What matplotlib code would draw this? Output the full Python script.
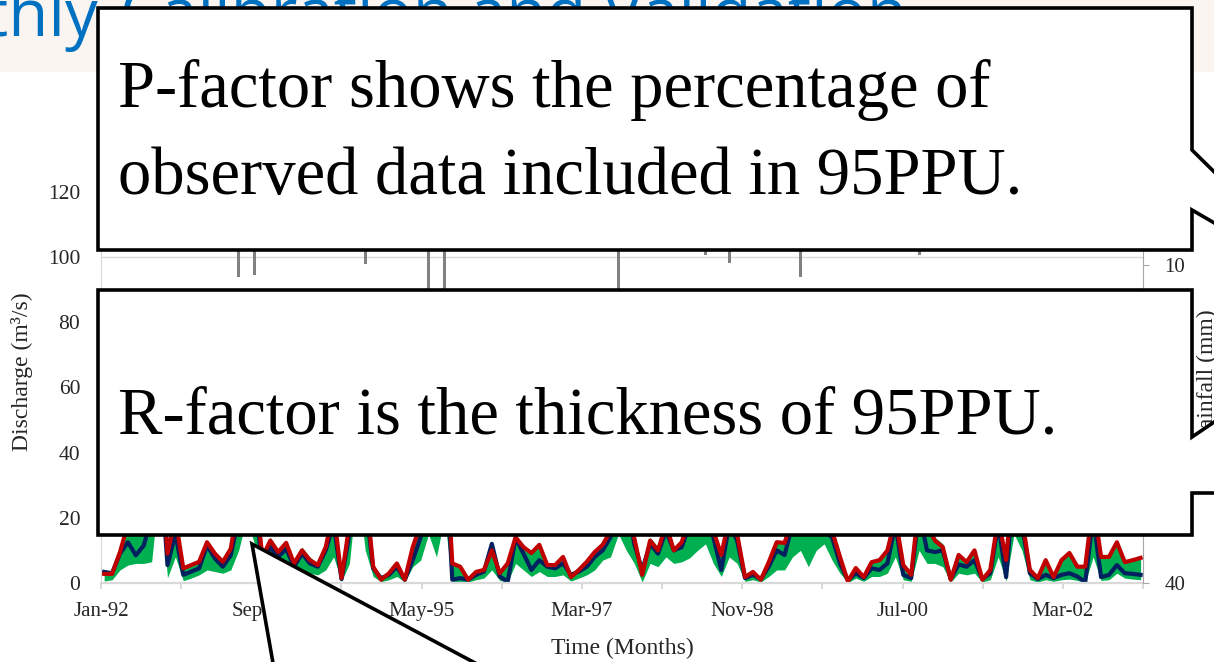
import matplotlib
matplotlib.use('Agg')
import matplotlib.pyplot as plt
from matplotlib.patches import Polygon, Rectangle
import numpy as np

# monthly series, Jan-92 .. Dec-02 (one row per year)
sim = [2.8, 2.8, 9.5, 18, 22, 26, 35, 45, 9.0, 20, 4.5, 5.5,
       6.5, 12.5, 9.0, 6.5, 10.5, 25, 40, 30, 8, 13, 9.5, 12.3,
       6, 10, 7, 5.5, 11, 22, 1.5, 18, 55, 30, 5, 1.0,
       3, 6, 1.0, 11, 18, 40, 25, 50, 6, 5, 1, 3.4,
       4, 10, 3, 6, 14, 11, 9.2, 11.7, 5.5, 5.5, 8, 1.8,
       4, 6.5, 9.5, 11.7, 16, 40, 30, 13.8, 2.5, 13, 10, 18,
       10, 12.5, 20, 25, 30, 16, 8.6, 20, 15, 1.8, 3.4, 1.0,
       6.4, 12.5, 12.3, 20, 30, 25, 22, 18, 16, 8, 0.5, 4.6,
       1.8, 6.4, 7, 10, 20, 5.5, 2.5, 25, 18, 13, 11, 1,
       8.6, 6.4, 10, 1, 4, 20, 7, 35, 20, 4, 1.5, 7,
       1.8, 7, 9.2, 5, 5, 25, 8, 8, 12.5, 6.4, 7, 7.7]

obs = [3.4, 3.0, 9.0, 12.5, 8.5, 11.5, 20, 40, 5.5, 15, 2.5, 3.5,
       4.5, 11.5, 7.5, 5.0, 8.5, 20, 35, 25, 6, 11, 8, 10.5,
       5, 9, 6, 5, 10, 18, 1.2, 15, 50, 25, 4.5, 1.5,
       2.5, 5, 1.0, 7, 14, 35, 20, 45, 1.0, 1.5, 1, 2.5,
       3.5, 12, 2, 0.4, 13.8, 9, 4, 7, 5, 4.5, 6, 2.5,
       3.5, 5, 8, 10, 14, 35, 26, 12, 4, 12, 9, 16,
       10, 11, 18, 22, 26, 14, 4, 18, 13, 1.5, 2.5, 1.2,
       5, 10, 8.6, 18, 26, 22, 20, 16, 14, 6, 0.8, 3,
       1.5, 4.5, 4, 6, 18, 2.5, 1.5, 22, 10, 9.5, 10, 1.2,
       5.7, 5, 7, 1.2, 3, 18, 1.8, 30, 18, 3, 1.2, 2.5,
       1.5, 2.5, 3, 2, 0.3, 20, 1.8, 2.5, 5.5, 3, 2.8, 2.5]

ppu_low = [0.6, 1.0, 4.0, 5.5, 6.0, 6.0, 6.5, 30, 1.6, 8, 0.7, 1.5,
           2.5, 4, 3.5, 3, 4, 10, 20, 12, 3, 6, 4, 5,
           2.5, 4, 3, 2.5, 4, 8, 0.5, 6, 30, 10, 2, 0.4,
           1, 2, 0.3, 5, 7, 15, 8, 20, 0.3, 0.5, 0.3, 1,
           1.5, 4, 0.8, 0.2, 6, 4, 2, 3.5, 2, 2, 2.5, 0.6,
           1.5, 2.5, 4, 7, 8, 15, 10, 6, 0.3, 6, 5, 8,
           6, 6.5, 7.7, 10, 12, 6, 2, 8, 6, 0.5, 1, 0.3,
           2, 4, 4, 8, 10, 5, 10, 12, 7, 3, 0.1, 1.5,
           0.5, 2, 2, 3, 8, 1, 0.5, 10, 6, 6, 5, 0.3,
           3, 2.5, 3, 0.3, 1, 8, 0.6, 15, 10, 1, 0.3, 1,
           0.5, 1, 1.2, 0.8, 0.1, 8, 0.8, 1, 3, 1.5, 1.2, 1]

ppu_up = [3.6, 3.2, 10, 19, 23, 28, 38, 50, 10, 22, 5, 6,
          7, 13, 9.5, 7, 11, 28, 45, 32, 9, 14, 10, 13,
          6.5, 11, 8, 6, 12, 25, 2, 20, 60, 35, 5.5, 1.8,
          3.5, 6.5, 1.5, 12, 20, 45, 28, 55, 6.5, 5.5, 1.5, 4,
          4.5, 12.5, 3.5, 6.5, 15, 11.5, 9.5, 12, 6, 6, 8.5, 3,
          5, 7, 10, 12, 18, 45, 35, 15, 3, 14, 11, 20,
          11, 13.5, 22, 28, 34, 18, 9, 22, 17, 2.5, 4, 1.5,
          7, 13, 13, 22, 34, 28, 25, 22, 18, 9, 1, 5,
          2.5, 7, 7.5, 10.5, 22, 6, 3, 28, 20, 14, 12, 1.5,
          9, 7, 10.5, 1.5, 5, 22, 7.5, 38, 22, 5, 2, 7.5,
          2.5, 7.5, 9.5, 5.5, 5.5, 28, 8.5, 8.5, 13, 7, 7.5, 8]

rain = [3.2, 4.1, 5.0, 6.2, 7.1, 5.5, 6.8, 4.0, 3.1, 5.9, 2.4, 3.0,
        2.8, 4.5, 3.6, 5.1, 6.0, 11.1, 7.2, 10.9, 4.3, 6.1, 5.2, 3.4,
        2.5, 4.8, 3.9, 6.6, 5.4, 7.0, 4.1, 6.3, 5.7, 9.9, 3.8, 2.6,
        2.1, 3.7, 4.9, 7.5, 6.2, 16.0, 5.8, 14.0, 3.3, 4.4, 2.9, 5.1,
        6.8, 4.2, 7.3, 5.0, 6.4, 3.6, 5.5, 4.7, 2.8, 3.9, 5.3, 6.1,
        4.6, 5.9, 6.7, 7.8, 5.2, 18.0, 6.9, 5.8, 4.4, 7.4, 3.5, 6.0,
        7.2, 5.4, 6.6, 4.9, 9.1, 7.7, 5.1, 9.8, 3.2, 2.7, 4.0, 3.1,
        5.6, 6.3, 7.0, 4.8, 11.1, 7.9, 6.2, 5.7, 4.5, 2.2, 3.0, 4.1,
        2.6, 4.9, 5.3, 6.0, 7.4, 3.8, 5.0, 9.1, 6.8, 4.3, 5.6, 3.3,
        2.4, 3.6, 4.4, 3.1, 5.8, 6.5, 7.3, 7.6, 5.9, 2.8, 1.9, 3.5,
        4.0, 2.7, 5.1, 4.6, 3.9, 7.2, 3.4, 4.8, 6.1, 3.0, 3.7, 4.2]

tick_labels = ["Jan-92", "Sep-93", "May-95", "Mar-97", "Nov-98", "Jul-00", "Mar-02"]

months = np.arange(len(sim))

W, H = 1214, 662
plt.rcParams['font.family'] = 'Liberation Serif'
fig = plt.figure(figsize=(W / 100, H / 100), dpi=100)

# main chart, placed in pixel terms
ax = fig.add_axes([101 / W, (H - 583) / H, (1143 - 101) / W, (583 - 159) / H])
ax.fill_between(months, ppu_low, ppu_up, color='#00B050', lw=0)
ax.plot(months, obs, color='#002060', lw=3.0)
ax.plot(months, sim, color='#C00000', lw=3.0)

x0, x1 = -0.4, len(sim) - 1 + 0.3
ax.set_xlim(x0, x1)
ax.set_ylim(0, 130)
ax.set_yticks(np.arange(0, 121, 20))
ticks = np.linspace(x0, x1, 2 * len(tick_labels))
ax.set_xticks(ticks[::2], tick_labels)
ax.set_xticks(ticks[1::2], minor=True)
ax.yaxis.grid(True, color='#D9D9D9', lw=1)
ax.set_axisbelow(True)
for s in ['top', 'right']:
    ax.spines[s].set_visible(False)
ax.spines['left'].set_color('#D9D9D9')
ax.spines['bottom'].set_color('#D9D9D9')
ax.spines['bottom'].set_linewidth(1.6)
ax.tick_params(axis='y', length=0, pad=15, labelsize=15.5, labelcolor='#262626')
ax.tick_params(axis='x', which='both', length=4.5, width=1.4, color='#D9D9D9',
               pad=9, labelsize=15, labelcolor='#262626')

# rainfall on the inverted secondary axis
ax2 = ax.twinx()
ax2.bar(months, rain, width=0.38, color='#808080')
ax2.set_ylim(40, 0)
ax2.set_yticks([0, 10, 20, 30, 40])
for s in ['top', 'left', 'bottom']:
    ax2.spines[s].set_visible(False)
ax2.spines['right'].set_color('#A6A6A6')
ax2.tick_params(axis='y', length=4.5, color='#A6A6A6', pad=11, labelsize=15,
                labelcolor='#262626')

# overlay in pixel coordinates: slide band, labels, callouts
ov = fig.add_axes([0, 0, 1, 1])
ov.set_xlim(0, W)
ov.set_ylim(H, 0)
ov.axis('off')
ov.patch.set_visible(False)
ov.set_zorder(10)

ov.add_patch(Rectangle((0, 0), W, 71, color='#FBF5F2', zorder=0))
ov.text(98, 36, "Monthly", ha='right', va='baseline', fontsize=47,
        color='#0070C0', family='Open Sans', zorder=1)
ov.text(120, 36, "Calibration and Validation", ha='left', va='baseline',
        fontsize=47, color='#0070C0', family='Open Sans', zorder=1)

ov.text(22, 372, "Discharge (m³/s)", rotation=90, ha='center', va='center',
        fontsize=17, color='#262626', zorder=1)
ov.text(1207, 377, "Rainfall (mm)", rotation=90, ha='center', va='center',
        fontsize=17, color='#262626', zorder=1)
ov.text(622, 648, "Time (Months)", ha='center', va='center', fontsize=17,
        color='#262626', zorder=1)

box_style = dict(facecolor='white', edgecolor='black', lw=2.6, zorder=2,
                 joinstyle='miter')
upper = [(98, 8), (1192, 8), (1192, 150), (1340, 296), (1192, 210),
         (1192, 250), (98, 250)]
lower = [(98, 290), (1192, 290), (1192, 437), (1260, 391), (1260, 493),
         (1192, 493), (1192, 535), (98, 535)]
tail = [(252, 544), (276, 680), (507, 680)]
for pts in (upper, lower, tail):
    ov.add_patch(Polygon(pts, closed=True, **box_style))

ov.text(118, 107, "P-factor shows the percentage of", va='baseline',
        fontsize=48, zorder=3)
ov.text(118, 194, "observed data included in 95PPU.", va='baseline',
        fontsize=48, zorder=3)
ov.text(118, 433, "R-factor is the thickness of 95PPU.", va='baseline',
        fontsize=48, zorder=3)

fig.savefig('out.png', dpi=100)
